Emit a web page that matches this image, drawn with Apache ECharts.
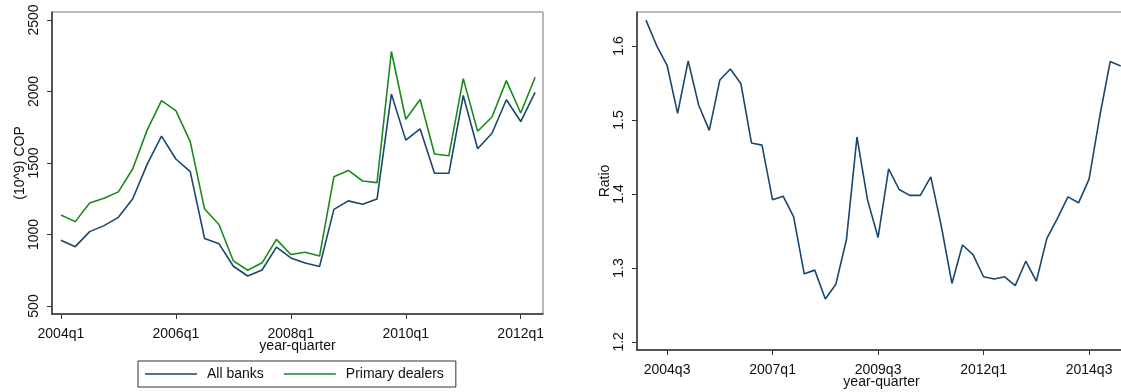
<!DOCTYPE html>
<html>
<head>
<meta charset="utf-8">
<style>
  html, body { margin: 0; padding: 0; background: #fff; }
  #chart { width: 1121px; height: 392px; }
</style>
<script src="https://cdn.jsdelivr.net/npm/echarts@6/dist/echarts.min.js"></script>
</head>
<body>
<div id="chart"></div>
<script>
// Quarterly balances, 2004q1 - 2012q2, in billions of COP
const flowStart = 2004;
const allBanks = [960, 915, 1020, 1062, 1120, 1250, 1490, 1688, 1528, 1440,
  972, 936, 778, 710, 752, 912, 836, 800, 776, 1176,
  1235, 1212, 1248, 1982, 1660, 1738, 1428, 1428, 1972, 1600,
  1708, 1942, 1790, 1994];
const primaryDealers = [1136, 1090, 1220, 1254, 1298, 1460, 1730, 1936, 1866, 1650,
  1178, 1070, 815, 750, 802, 966, 860, 876, 849, 1404,
  1448, 1374, 1363, 2280, 1806, 1944, 1563, 1551, 2090, 1722,
  1822, 2076, 1850, 2100];

// Ratio series, 2004q1 - 2015q2
const ratio = [1.635, 1.601, 1.574, 1.509, 1.580, 1.520, 1.486, 1.554, 1.569, 1.549,
  1.469, 1.466, 1.392, 1.397, 1.369, 1.292, 1.297, 1.258, 1.278, 1.338,
  1.477, 1.392, 1.341, 1.434, 1.406, 1.398, 1.398, 1.423, 1.356, 1.279,
  1.331, 1.318, 1.288, 1.285, 1.288, 1.276, 1.309, 1.282, 1.340, 1.367,
  1.396, 1.388, 1.420, 1.504, 1.579, 1.573];

const leftYTicks = [500, 1000, 1500, 2000, 2500];
const leftXTicks = [0, 8, 16, 24, 32];      // 2004q1, 2006q1, 2008q1, 2010q1, 2012q1
const rightYTicks = [1.2, 1.3, 1.4, 1.5, 1.6];
const rightXTicks = [2, 12, 22, 32, 42];    // 2004q3, 2007q1, 2009q3, 2012q1, 2014q3

function quarterLabel(i) {
  const k = Math.round(i);
  return (flowStart + Math.floor(k / 4)) + 'q' + (k % 4 + 1);
}
const pairs = arr => arr.map((v, i) => [i, v]);

const FONT = '"Liberation Sans", Arial, sans-serif';
const AXIS_COLOR = '#333';
const BLUE = '#1a476f';
const GREEN = '#1a8a1a';

function xAxisCfg(gridIndex, min, max, ticks) {
  return {
    type: 'value', gridIndex, min, max,
    name: 'year-quarter', nameLocation: 'middle', nameGap: 25, nameMoveOverlap: false,
    nameTextStyle: { fontFamily: FONT, fontSize: 14, color: '#111' },
    splitLine: { show: false },
    axisLine: { show: true, onZero: false, lineStyle: { color: AXIS_COLOR, width: 1.5 } },
    axisTick: { show: true, customValues: ticks, length: 5, lineStyle: { color: AXIS_COLOR } },
    axisLabel: {
      customValues: ticks, formatter: v => quarterLabel(v), margin: 13,
      fontFamily: FONT, fontSize: 14, color: '#111'
    }
  };
}
function yAxisCfg(gridIndex, min, max, ticks, name, fmt) {
  return {
    type: 'value', gridIndex, min, max,
    name, nameLocation: 'middle', nameGap: 25, nameRotate: 90, nameMoveOverlap: false,
    nameTextStyle: { fontFamily: FONT, fontSize: 14, color: '#111' },
    splitLine: { show: false },
    axisLine: { show: true, onZero: false, lineStyle: { color: AXIS_COLOR, width: 1.5 } },
    axisTick: { show: true, customValues: ticks, length: 5, lineStyle: { color: AXIS_COLOR } },
    axisLabel: {
      customValues: ticks, formatter: fmt, rotate: 90, margin: 11,
      fontFamily: FONT, fontSize: 14, color: '#111'
    }
  };
}

const chart = echarts.init(document.getElementById('chart'), null, { renderer: 'canvas' });
chart.setOption({
  animation: false,
  backgroundColor: '#fff',
  grid: [
    { left: 52, top: 12, width: 491, height: 302, show: true, borderColor: '#777', borderWidth: 1,
      outerBoundsMode: 'none', containLabel: false },
    { left: 637, top: 12, width: 489, height: 338, show: true, borderColor: '#777', borderWidth: 1,
      outerBoundsMode: 'none', containLabel: false }
  ],
  xAxis: [
    xAxisCfg(0, -0.62, 33.55, leftXTicks),
    xAxisCfg(1, -0.85, 45.5, rightXTicks)
  ],
  yAxis: [
    yAxisCfg(0, 444, 2556, leftYTicks, '(10^9) COP', v => String(v)),
    yAxisCfg(1, 1.189, 1.646, rightYTicks, 'Ratio', v => v.toFixed(1))
  ],
  legend: {
    left: 138, top: 361,
    data: ['All banks', 'Primary dealers'],
    icon: 'rect',
    borderColor: '#333', borderWidth: 1, borderRadius: 0,
    padding: [6, 12, 6, 7],
    itemWidth: 52, itemHeight: 1.6, itemGap: 20,
    textStyle: { fontFamily: FONT, fontSize: 14, color: '#111', padding: [0, 0, 0, 5] }
  },
  series: [
    {
      name: 'All banks', type: 'line', xAxisIndex: 0, yAxisIndex: 0,
      data: pairs(allBanks), symbol: 'none',
      lineStyle: { color: BLUE, width: 1.6 }, itemStyle: { color: BLUE }
    },
    {
      name: 'Primary dealers', type: 'line', xAxisIndex: 0, yAxisIndex: 0,
      data: pairs(primaryDealers), symbol: 'none',
      lineStyle: { color: GREEN, width: 1.6 }, itemStyle: { color: GREEN }
    },
    {
      name: 'Ratio', type: 'line', xAxisIndex: 1, yAxisIndex: 1,
      data: pairs(ratio), symbol: 'none',
      lineStyle: { color: BLUE, width: 1.6 }, itemStyle: { color: BLUE }
    }
  ]
});
</script>
</body>
</html>
